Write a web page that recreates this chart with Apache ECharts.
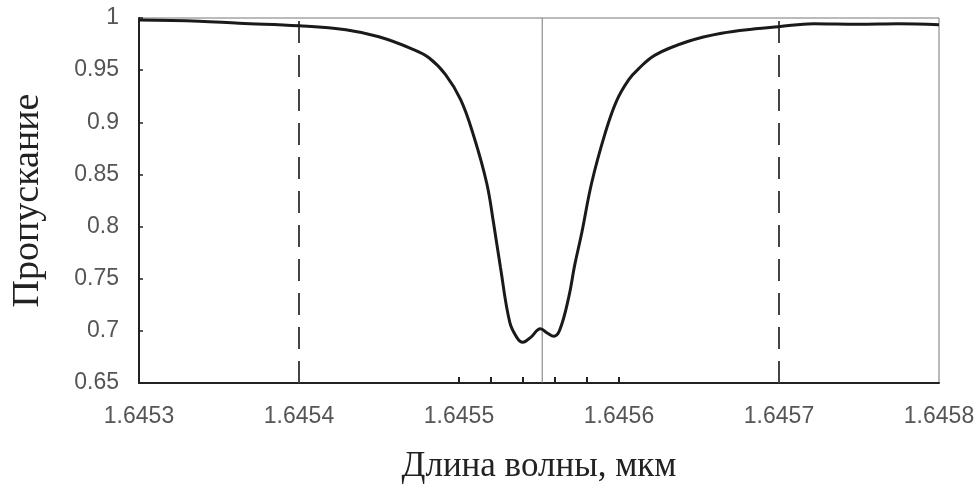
<!DOCTYPE html>
<html>
<head>
<meta charset="utf-8">
<script src="https://cdn.jsdelivr.net/npm/echarts@6/dist/echarts.min.js"></script>
<style>html,body{margin:0;padding:0;background:#fff}#c{width:979px;height:490px}</style>
</head>
<body>
<div id="c"></div>
<script>
// wavelength, um
const wavelength = [1.6453, 1.6453376, 1.6453625, 1.6454, 1.6454293, 1.6454499, 1.6454705, 1.6454812, 1.6454917, 1.6455011, 1.6455092, 1.6455173, 1.6455217, 1.6455259, 1.6455317, 1.6455361, 1.6455398, 1.6455448, 1.6455509, 1.6455554, 1.6455592, 1.6455629, 1.6455686, 1.6455723, 1.6455767, 1.6455829, 1.6455914, 1.6455985, 1.645606, 1.6456122, 1.6456228, 1.6456434, 1.645664, 1.6456852, 1.6456996, 1.6457214, 1.6457495, 1.6457745, 1.6458];
// transmission
const transmission = [0.998, 0.997, 0.995, 0.9926, 0.9888, 0.982, 0.9705, 0.9619, 0.9455, 0.9215, 0.8869, 0.8418, 0.8024, 0.761, 0.7083, 0.6938, 0.689, 0.6938, 0.702, 0.6977, 0.6948, 0.7005, 0.7323, 0.763, 0.7938, 0.8418, 0.8898, 0.9206, 0.9407, 0.9513, 0.9647, 0.9777, 0.9854, 0.9897, 0.9916, 0.9945, 0.994, 0.9945, 0.9936];
const xTicks = [1.6454, 1.6455, 1.64552, 1.64554, 1.64556, 1.64558, 1.6456, 1.6457];
const centerLine = 1.645552;
const dashedLines = [1.6454, 1.6457];
const yRange = [0.65, 1];
const xTitle = 'Длина волны, мкм';
const yTitle = 'Пропускание';

const chart = echarts.init(document.getElementById('c'), null, {renderer: 'canvas'});
const data = wavelength.map((w, i) => [w, transmission[i]]);
const vline = x => [[x, yRange[0]], [x, yRange[1]]];
chart.setOption({
  animation: false,
  grid: {left: 139, right: 40, top: 18, bottom: 107, containLabel: false, outerBoundsMode: 'none',
         show: true, borderColor: '#777', borderWidth: 1, backgroundColor: 'transparent'},
  xAxis: {
    type: 'value', min: 1.6453, max: 1.6458, interval: 0.0001,
    name: xTitle, nameLocation: 'middle', nameGap: 66,
    nameTextStyle: {fontFamily: 'Liberation Serif', fontSize: 35, color: '#222'},
    axisLine: {lineStyle: {color: '#222', width: 2}},
    axisTick: {inside: true, length: 6, customValues: xTicks, lineStyle: {color: '#222', width: 2}},
    axisLabel: {formatter: v => v.toFixed(4), margin: 22, fontFamily: 'Liberation Sans', fontSize: 23, color: '#555'},
    splitLine: {show: false}
  },
  yAxis: {
    type: 'value', min: yRange[0], max: yRange[1], interval: 0.05,
    name: yTitle, nameLocation: 'middle', nameGap: 92,
    nameTextStyle: {fontFamily: 'Liberation Serif', fontSize: 38, color: '#222'},
    axisLine: {show: true, lineStyle: {color: '#222', width: 2}},
    axisTick: {show: true, inside: true, length: 4, lineStyle: {color: '#222', width: 1.5}},
    axisLabel: {formatter: v => String(+v.toFixed(2)), margin: 20, fontFamily: 'Liberation Sans', fontSize: 23, color: '#555'},
    splitLine: {show: false}
  },
  series: [
    {type: 'line', data: vline(centerLine), showSymbol: false, symbol: 'none', silent: true,
     lineStyle: {color: '#777', width: 1}},
    ...dashedLines.map(x => ({type: 'line', data: vline(x), showSymbol: false, symbol: 'none', silent: true,
     lineStyle: {color: '#444', width: 2, type: [22, 12]}})),
    {type: 'line', data: data, showSymbol: false, symbol: 'none', smooth: 0.4,
     lineStyle: {color: '#1a1a1a', width: 3}}
  ]
});
</script>
</body>
</html>
